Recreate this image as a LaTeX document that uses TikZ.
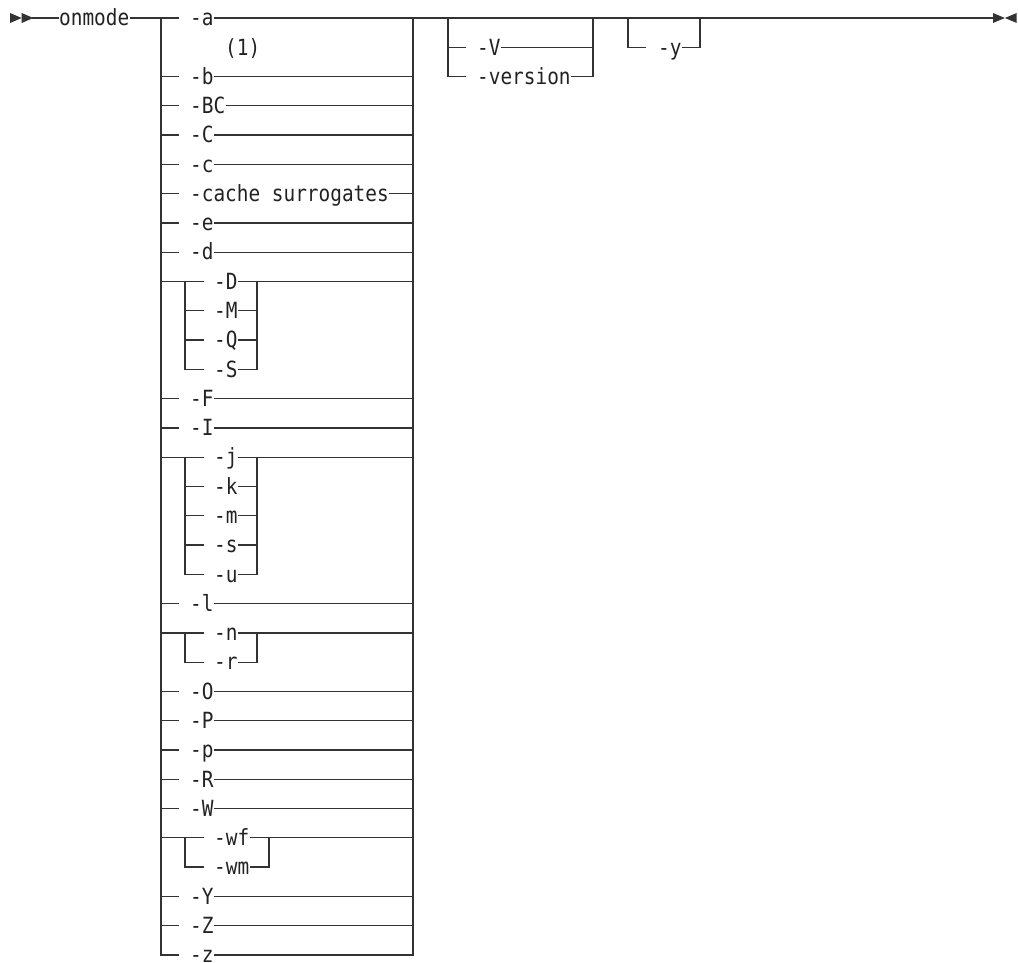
\documentclass[tikz,border=0pt]{standalone}
\usepackage{fontspec}
\newfontfamily\railfont[FakeStretch=0.87]{DejaVu Sans Mono}
\definecolor{railGray}{HTML}{333333}
\definecolor{railText}{HTML}{222222}

\begin{document}
\begin{tikzpicture}[x=1pt,y=-1pt,
  rail/.style={railGray,line width=1.3pt,line cap=rect},
  opt/.style={anchor=west,inner xsep=1pt,inner ysep=0pt,text height=15.5pt,text depth=0pt,
    railText,font=\railfont\fontsize{22.3}{23}\selectfont},
  tip/.style={fill=railGray}]
  \useasboundingbox (0,0) rectangle (1018,963);
  % start
  \fill[tip] (10,13) -- (21.7,18) -- (10,23) -- cycle;
  \fill[tip] (21.7,13) -- (33.3,18) -- (21.7,23) -- cycle;
  \node[opt] (onmode) at (58,18) {onmode};
  \draw[rail] (33,18) -- (onmode.west);
  \draw[rail] (onmode.east) -- (161,18);
  % main choice
  \draw[rail] (161,18) -- (161,955);
  \draw[rail] (413,18) -- (413,955);
  \foreach \y/\t [count=\i] in {18/-a,76.6/-b,105.8/-BC,135.1/-C,164.4/-c,193.7/-cache surrogates,
      223/-e,252.2/-d,398.6/-F,427.9/-I,603.6/-l,691.4/-O,720.7/-P,750/-p,779.3/-R,808.6/-W,
      896.4/-Y,925.7/-Z,955/-z} {
    \node[opt] (s\i) at (189,\y) {\t};
    \draw[rail] (161,\y) -- ++(17,0);
    \draw[rail] (s\i.east) -- (413,\y);
  }
  \node[opt] (note) at (224,47.3) {(1)};
  % -D -M -Q -S
  \draw[rail] (161,281.5) -- (203,281.5);
  \draw[rail] (185,281.5) -- (185,369.4);
  \draw[rail] (257,281.5) -- (257,369.4);
  \foreach \y/\t [count=\i] in {281.5/-D,310.8/-M,340.1/-Q,369.4/-S} {
    \node[opt] (d\i) at (213,\y) {\t};
    \draw[rail] (185,\y) -- ++(18,0);
    \draw[rail] (d\i.east) -- (257,\y);
  }
  \draw[rail] (257,281.5) -- (413,281.5);
  % -j -k -m -s -u
  \draw[rail] (161,457.2) -- (203,457.2);
  \draw[rail] (185,457.2) -- (185,574.3);
  \draw[rail] (257,457.2) -- (257,574.3);
  \foreach \y/\t [count=\i] in {457.2/-j,486.5/-k,515.8/-m,545/-s,574.3/-u} {
    \node[opt] (j\i) at (213,\y) {\t};
    \draw[rail] (185,\y) -- ++(18,0);
    \draw[rail] (j\i.east) -- (257,\y);
  }
  \draw[rail] (257,457.2) -- (413,457.2);
  % -n -r
  \draw[rail] (161,632.9) -- (203,632.9);
  \draw[rail] (185,632.9) -- (185,662.2);
  \draw[rail] (257,632.9) -- (257,662.2);
  \foreach \y/\t [count=\i] in {632.9/-n,662.2/-r} {
    \node[opt] (n\i) at (213,\y) {\t};
    \draw[rail] (185,\y) -- ++(18,0);
    \draw[rail] (n\i.east) -- (257,\y);
  }
  \draw[rail] (257,632.9) -- (413,632.9);
  % -wf -wm
  \draw[rail] (161,837.8) -- (203,837.8);
  \draw[rail] (185,837.8) -- (185,867.1);
  \draw[rail] (269,837.8) -- (269,867.1);
  \foreach \y/\t [count=\i] in {837.8/-wf,867.1/-wm} {
    \node[opt] (w\i) at (213,\y) {\t};
    \draw[rail] (185,\y) -- ++(18,0);
    \draw[rail] (w\i.east) -- (269,\y);
  }
  \draw[rail] (269,837.8) -- (413,837.8);
  % -V / -version, -y
  \draw[rail] (413,18) -- (993,18);
  \draw[rail] (448,18) -- (448,76.6);
  \draw[rail] (593,18) -- (593,76.6);
  \foreach \y/\t [count=\i] in {47.3/-V,76.6/-version} {
    \node[opt] (v\i) at (476,\y) {\t};
    \draw[rail] (448,\y) -- ++(17,0);
    \draw[rail] (v\i.east) -- (593,\y);
  }
  \draw[rail] (628,18) -- (628,47.3);
  \draw[rail] (700,18) -- (700,47.3);
  \node[opt] (y) at (657,47.3) {-y};
  \draw[rail] (628,47.3) -- ++(17,0);
  \draw[rail] (y.east) -- (700,47.3);
  % end
  \fill[tip] (993,13) -- (1004.8,18) -- (993,23) -- cycle;
  \fill[tip] (1016.7,13) -- (1004.9,18) -- (1016.7,23) -- cycle;
\end{tikzpicture}
\end{document}
